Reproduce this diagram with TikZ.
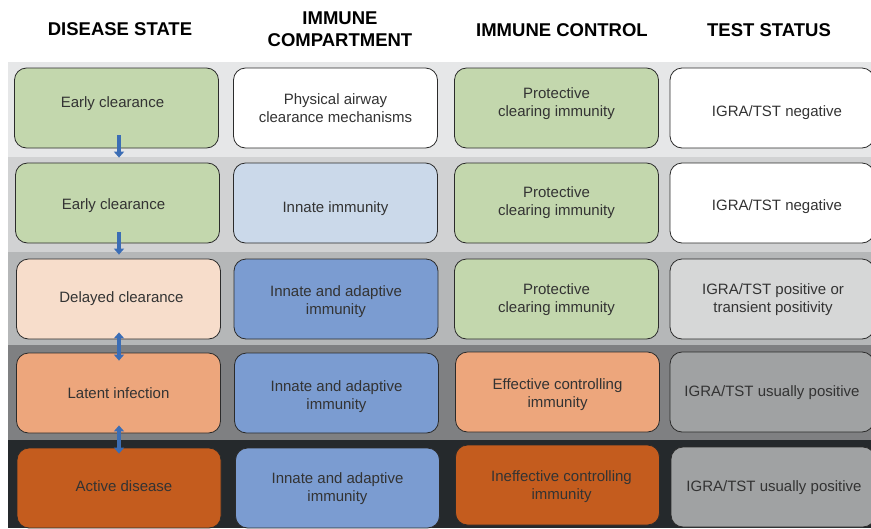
\documentclass[tikz,border=0pt]{standalone}
\usepackage{fontspec}
\setmainfont{Liberation Sans}
\usetikzlibrary{arrows.meta}
\definecolor{bandA}{HTML}{E6E7E8}
\definecolor{bandB}{HTML}{D1D2D3}
\definecolor{bandC}{HTML}{B5B7B8}
\definecolor{bandD}{HTML}{7F8082}
\definecolor{bandE}{HTML}{25292C}
\definecolor{cgreen}{HTML}{C3D7AD}
\definecolor{clblue}{HTML}{CBD9EA}
\definecolor{cblue}{HTML}{7B9CD1}
\definecolor{cpeach}{HTML}{F7DDCB}
\definecolor{corange}{HTML}{EDA67C}
\definecolor{cdorange}{HTML}{C45C1E}
\definecolor{clgray}{HTML}{D6D7D7}
\definecolor{cgray}{HTML}{A0A2A3}
\definecolor{boxline}{HTML}{2B2B2B}
\definecolor{txt}{HTML}{333333}
\definecolor{arrowblue}{HTML}{3B6DB5}
% \cellbox{name}{x}{y}{fill}{dx}{dy}{text}
\newcommand{\cellbox}[7]{%
  \node[box, fill=#4] (#1) at (#2,#3) {};
  \node[celltext] (#1t) at ([xshift=#5pt,yshift=#6pt]#1.center) {#7};}
\begin{document}
\begin{tikzpicture}[x=1pt,y=-1pt,
  box/.style={draw=boxline, line width=0.8pt, rounded corners=12pt,
    minimum width=204pt, minimum height=80pt, inner sep=0pt},
  celltext/.style={align=center, inner sep=0pt, text=txt, font=\fontsize{15}{18}\selectfont},
  head/.style={align=center, text=black, font=\bfseries\fontsize{18.5}{22}\selectfont},
  flow/.style={draw=arrowblue, line width=3.4pt, -{Triangle[width=10pt,length=6pt]}},
  flowboth/.style={draw=arrowblue, line width=3.4pt, {Triangle[width=10pt,length=6pt]}-{Triangle[width=10pt,length=6pt]}}]
\useasboundingbox (0,0) rectangle (871,528);
\clip (0,0) rectangle (871,528);
% bands
\fill[bandA] (8,62) rectangle (871,157);
\fill[bandB] (8,157) rectangle (871,252);
\fill[bandC] (8,252) rectangle (871,345);
\fill[bandD] (8,345) rectangle (871,440);
\fill[bandE] (8,440) rectangle (871,528);
% headers
\node[head] (h1) at (120,29) {DISEASE STATE};
\node[head] (h2) at (340,29) {IMMUNE\\COMPARTMENT};
\node[head] (h3) at (562,30) {IMMUNE CONTROL};
\node[head] (h4) at (769,30) {TEST STATUS};
% row 1
\cellbox{r1c1}{116.5}{108}{cgreen}{-4}{4}{Early clearance}
\cellbox{r1c2}{335.5}{108}{white}{0}{0}{Physical airway\\clearance mechanisms}
\cellbox{r1c3}{556.5}{108}{cgreen}{0}{4}{Protective\\clearing immunity}
\cellbox{r1c4}{772}{108}{white}{5}{-5}{IGRA/TST negative}
% row 2
\cellbox{r2c1}{117.5}{203}{cgreen}{-4}{-3}{Early clearance}
\cellbox{r2c2}{335.5}{203}{clblue}{0}{-6}{Innate immunity}
\cellbox{r2c3}{556.5}{203}{cgreen}{0}{0}{Protective\\clearing immunity}
\cellbox{r2c4}{772}{203}{white}{5}{-4}{IGRA/TST negative}
% row 3
\cellbox{r3c1}{118.5}{299}{cpeach}{3}{0}{Delayed clearance}
\cellbox{r3c2}{336}{299}{cblue}{0}{-3}{Innate and adaptive\\immunity}
\cellbox{r3c3}{556.5}{299}{cgreen}{0}{-1}{Protective\\clearing immunity}
\cellbox{r3c4}{772}{299}{clgray}{1}{-1}{IGRA/TST positive or\\transient positivity}
% row 4
\cellbox{r4c1}{118.5}{393}{corange}{0}{0}{Latent infection}
\cellbox{r4c2}{336.5}{393}{cblue}{0}{-4}{Innate and adaptive\\immunity}
\cellbox{r4c3}{557.5}{392}{corange}{0}{-3}{Effective controlling\\immunity}
\cellbox{r4c4}{772}{392}{cgray}{0}{-1}{IGRA/TST usually positive}
% row 5
\cellbox{r5c1}{119}{488}{cdorange}{5}{2}{Active disease}
\cellbox{r5c2}{337.5}{488}{cblue}{0}{-1}{Innate and adaptive\\immunity}
\cellbox{r5c3}{557.5}{485}{cdorange}{4}{-2}{Ineffective controlling\\immunity}
\cellbox{r5c4}{773}{487}{cgray}{1}{-1}{IGRA/TST usually positive}
% arrows
\draw[flow] ([xshift=2.5pt,yshift=13pt]r1c1.south) -- ([xshift=1.5pt,yshift=5pt]r2c1.north);
\draw[flow] ([xshift=1.5pt,yshift=11pt]r2c1.south) -- ([xshift=0.5pt,yshift=4pt]r3c1.north);
\draw[flowboth] ([xshift=0.5pt,yshift=7pt]r3c1.south) -- ([xshift=0.5pt,yshift=-8pt]r4c1.north);
\draw[flowboth] ([xshift=0.5pt,yshift=8pt]r4c1.south) -- ([xshift=0pt,yshift=-6pt]r5c1.north);
\end{tikzpicture}
\end{document}
